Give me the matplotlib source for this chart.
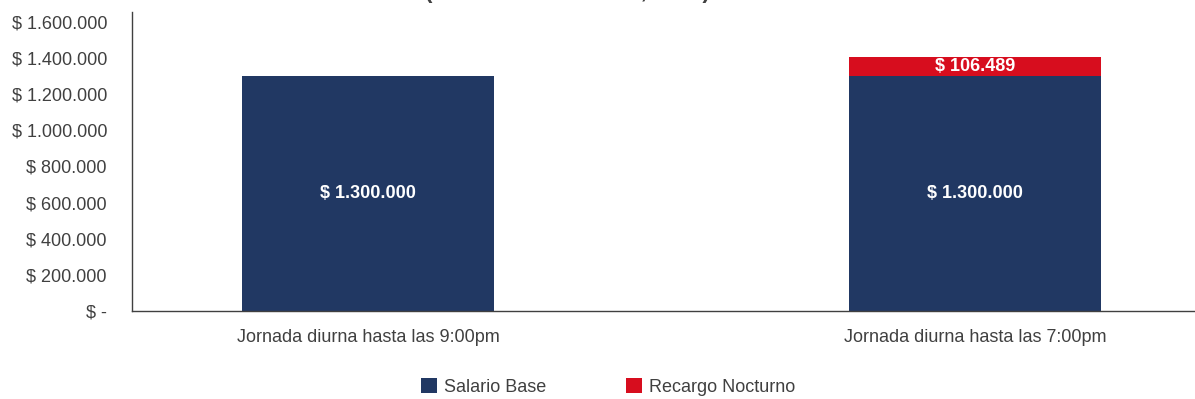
import matplotlib.pyplot as plt
from matplotlib.ticker import FuncFormatter

plt.rcParams['font.family'] = ['Liberation Sans', 'DejaVu Sans']

categorias = ["Jornada diurna hasta las 9:00pm", "Jornada diurna hasta las 7:00pm"]
salario_base = [1300000, 1300000]
recargo_nocturno = [0, 106489]
series = ["Salario Base", "Recargo Nocturno"]

azul = "#213863"
rojo = "#D70D1E"
gris = "#404040"


def pesos(v, pos=None):
    if v == 0:
        return "$ -"
    return "$ " + f"{int(v):,}".replace(",", ".")


fig = plt.figure(figsize=(11.95, 3.99), dpi=100)
ax = fig.add_axes([132 / 1195, 88 / 399, 1 - 132 / 1195, 299 / 399])

x = range(len(categorias))
b1 = ax.bar(x, salario_base, width=0.415, color=azul, label=series[0])
b2 = ax.bar(x, recargo_nocturno, width=0.415, bottom=salario_base, color=rojo, label=series[1])

# etiquetas de datos
for i in x:
    ax.text(i, salario_base[i] / 2, pesos(salario_base[i]), ha='center', va='center',
            color='white', fontsize=13, fontweight='bold')
    if recargo_nocturno[i] > 0:
        ax.text(i, salario_base[i] + recargo_nocturno[i] / 2, pesos(recargo_nocturno[i]),
                ha='center', va='center', color='white', fontsize=13, fontweight='bold')

ax.set_ylim(0, 1655000)
ax.set_xlim(-0.389, 1.362)
ax.set_yticks(range(0, 1600001, 200000))
ax.yaxis.set_major_formatter(FuncFormatter(pesos))
ax.set_xticks(list(x))
ax.set_xticklabels(categorias)
ax.tick_params(axis='y', length=0, pad=18, labelsize=13, labelcolor=gris)
ax.tick_params(axis='x', length=0, pad=13, labelsize=13, labelcolor=gris)

for s in ['top', 'right']:
    ax.spines[s].set_visible(False)
for s in ['left', 'bottom']:
    ax.spines[s].set_color('#404040')
    ax.spines[s].set_linewidth(1)

# titulo cortado arriba (como en la imagen original)
fig.text(0.475, 1.006, "(Pesos colombianos, 2023)", ha='center', va='baseline',
         fontsize=16, fontweight='bold', color=gris)

fig.legend(handles=[b1, b2], labels=series, loc='center', bbox_to_anchor=(0.509, 0.03),
           ncol=2, frameon=False, fontsize=13, handlelength=0.9, handleheight=0.9,
           handletextpad=0.4, columnspacing=4.4, labelcolor=gris)

fig.savefig("out.png", dpi=100)
